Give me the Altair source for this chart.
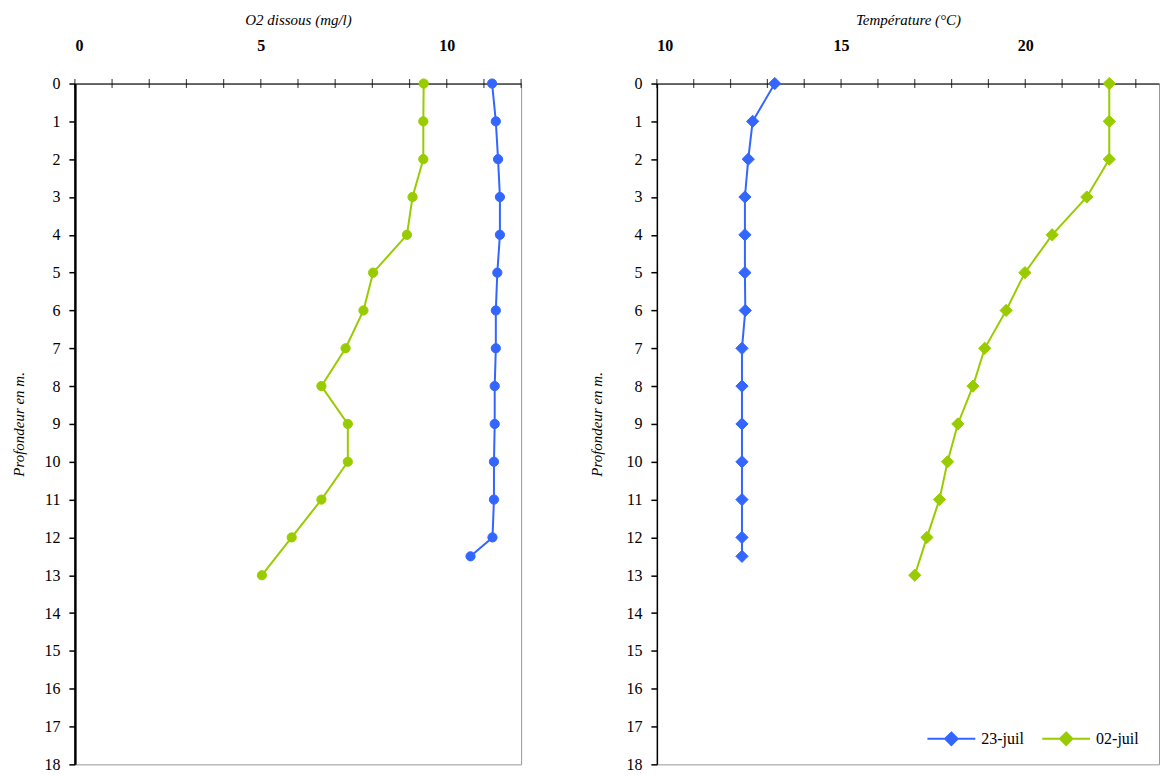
import altair as alt
import pandas as pd

# ---- data ----
series = ["23-juil", "02-juil"]
colors = ["#3366FF", "#99CC00"]

depth_23 = [0, 1, 2, 3, 4, 5, 6, 7, 8, 9, 10, 11, 12, 12.5]
o2_23 = [11.22, 11.32, 11.38, 11.43, 11.43, 11.36, 11.32, 11.32, 11.29, 11.29, 11.27, 11.27, 11.23, 10.64]
temp_23 = [13.2, 12.6, 12.48, 12.39, 12.39, 12.39, 12.4, 12.31, 12.31, 12.31, 12.31, 12.31, 12.31, 12.31]

depth_02 = [0, 1, 2, 3, 4, 5, 6, 7, 8, 9, 10, 11, 12, 13]
o2_02 = [9.38, 9.37, 9.37, 9.08, 8.93, 8.02, 7.76, 7.28, 6.63, 7.34, 7.34, 6.63, 5.83, 5.03]
temp_02 = [22.28, 22.28, 22.28, 21.67, 20.73, 19.99, 19.48, 18.9, 18.58, 18.17, 17.89, 17.67, 17.33, 17.0]

depth_ticks = list(range(0, 19))
o2_labels = [0, 5, 10]
o2_minor = list(range(0, 13))
temp_labels = [10, 15, 20]
temp_minor = list(range(10, 24))

FONT = "Liberation Serif"

rows = []
for d, o, t in zip(depth_23, o2_23, temp_23):
    rows.append({"serie": series[0], "depth": d, "o2": o, "temp": t})
for d, o, t in zip(depth_02, o2_02, temp_02):
    rows.append({"serie": series[1], "depth": d, "o2": o, "temp": t})
df = pd.DataFrame(rows)

color_scale = alt.Scale(domain=series, range=colors)
y_scale = alt.Scale(domain=[0, 18], reverse=True, nice=False, zero=False)

legend_path = "M-1,0H1M0,-0.26L0.26,0L0,0.26L-0.26,0Z"


def y_axis(width, tpad):
    return alt.Axis(
        title="Profondeur en m.",
        values=depth_ticks,
        format="d",
        labelOverlap=False,
        domainColor="black",
        domainWidth=width,
        ticks=True,
        tickColor="black",
        tickSize=6,
        tickWidth=1.5,
        labelPadding=9,
        titlePadding=tpad,
        grid=False,
    )


def panel(field, domain, labels, minor, title, w, shape, size, ywidth, tpad, show_legend):
    xs = alt.Scale(domain=domain, nice=False, zero=False)
    x_axis = alt.Axis(
        orient="top",
        title=title,
        values=labels,
        format="d",
        labelOverlap=False,
        ticks=False,
        domainColor="black",
        domainWidth=1,
        labelFontWeight="bold",
        labelPadding=30,
        titlePadding=10,
        grid=False,
    )
    yax = y_axis(ywidth, tpad)
    tick_df = pd.DataFrame({"v": minor, "d": [0] * len(minor)})
    ticks = alt.Chart(tick_df).mark_tick(
        orient="vertical", color="black", size=9, thickness=1.2
    ).encode(
        x=alt.X("v:Q", scale=xs, axis=x_axis),
        y=alt.Y("d:Q", scale=y_scale, axis=yax),
    )
    base = alt.Chart(df)
    line = base.mark_line(strokeWidth=2).encode(
        x=alt.X(f"{field}:Q", scale=xs, axis=x_axis),
        y=alt.Y("depth:Q", scale=y_scale, axis=yax),
        color=alt.Color("serie:N", scale=color_scale, legend=None),
        order="depth:Q",
        detail="serie:N",
    )
    if show_legend:
        leg = alt.Legend(
            title=None,
            orient="none",
            legendX=270,
            legendY=631,
            direction="horizontal",
            symbolType=legend_path,
            symbolSize=2304,
            symbolStrokeWidth=2,
            labelFont=FONT,
            labelFontSize=16,
            labelColor="black",
            labelOffset=5,
            columnPadding=14,
        )
    else:
        leg = None
    pts = base.mark_point(shape=shape, size=size, strokeWidth=1, opacity=1).encode(
        x=alt.X(f"{field}:Q", scale=xs, axis=x_axis),
        y=alt.Y("depth:Q", scale=y_scale, axis=yax),
        fill=alt.Fill("serie:N", scale=color_scale, legend=leg),
        stroke=alt.Stroke("serie:N", scale=color_scale, legend=leg),
    )
    return alt.layer(ticks, line, pts).properties(width=w, height=682)


left = panel("o2", [0, 12], o2_labels, o2_minor, "O2 dissous (mg/l)", 447,
             "circle", 85, 2.5, 17, False)
right = panel("temp", [10, 23.63], temp_labels, temp_minor, "Température (°C)", 503,
              "diamond", 150, 1.5, 21, True)

chart = (
    alt.hconcat(left, right, spacing=66)
    .resolve_legend(fill="independent", stroke="independent")
    .properties(padding={"left": 3, "top": 3, "right": 0, "bottom": 0}, background="white")
    .configure_view(stroke="#999999", strokeWidth=1)
    .configure_axis(
        labelFont=FONT,
        labelFontSize=16,
        labelColor="black",
        titleFont=FONT,
        titleFontSize=15,
        titleFontStyle="italic",
        titleFontWeight="normal",
        titleColor="black",
    )
)

chart.save("out.html", embed_options={"renderer": "svg", "actions": False})
